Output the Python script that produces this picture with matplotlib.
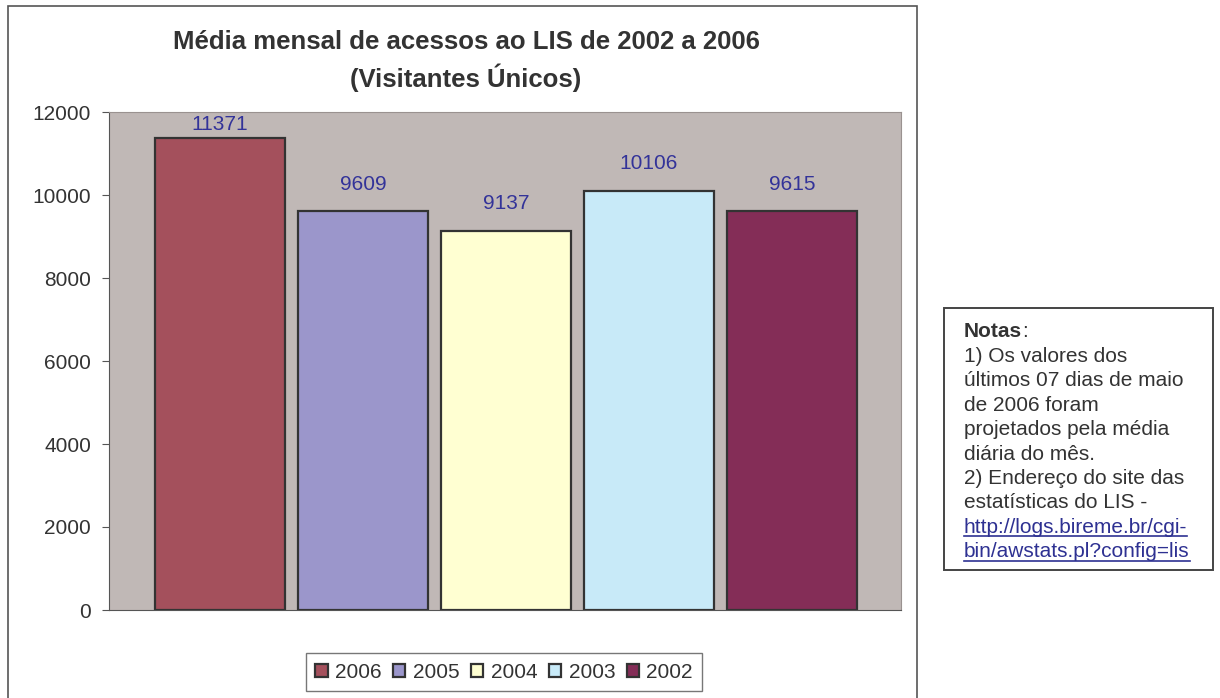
import matplotlib.pyplot as plt
from matplotlib.patches import Rectangle
from matplotlib.lines import Line2D

plt.rcParams['font.family'] = ['Liberation Sans', 'DejaVu Sans']

# Data
years = ['2006', '2005', '2004', '2003', '2002']
values = [11371, 9609, 9137, 10106, 9615]
colors = ['#A4505C', '#9B96CB', '#FFFFD2', '#C8EAF8', '#842D57']

W, H = 1220, 698
fig = plt.figure(figsize=(W / 100, H / 100), dpi=100)

def fx(px):
    return px / W

def fy(py):
    return 1 - py / H

# Outer chart frame
fig.patches.append(Rectangle((fx(8), -0.01), fx(917 - 8), fy(6) + 0.01,
                             transform=fig.transFigure, fill=False,
                             edgecolor='#555555', lw=1.2))

ax = fig.add_axes([fx(109), fy(610), fx(901 - 109), (610 - 112) / H])
ax.set_facecolor('#C0B8B6')

x = range(len(years))
bars = ax.bar(x, values, width=0.91, color=colors, edgecolor='#333333',
              lw=1.6, label=years)
for xi, v in zip(x, values):
    ax.text(xi, min(v + 650, 11710), str(v), ha='center', va='center',
            color='#333399', fontsize=15)

ax.set_xlim(-0.776, 4.762)
ax.set_ylim(0, 12000)
ax.set_yticks(range(0, 12001, 2000))
ax.set_xticks([])
ax.tick_params(axis='y', labelsize=15, length=5, color='#555555',
               labelcolor='#333333', pad=8)
for side in ['top', 'right']:
    ax.spines[side].set_color('#9A9290')
ax.spines['left'].set_color('#555555')
ax.spines['bottom'].set_color('#555555')

fig.text(fx(466), fy(42), 'Média mensal de acessos ao LIS de 2002 a 2006',
         ha='center', va='center', fontsize=18.5, fontweight='bold', color='#333333')
fig.text(fx(466), fy(78), '(Visitantes Únicos)',
         ha='center', va='center', fontsize=18.5, fontweight='bold', color='#333333')

leg = fig.legend(bars, years, loc='center', bbox_to_anchor=(fx(504), fy(672)),
                 ncol=5, fontsize=15, frameon=True, fancybox=False,
                 handlelength=0.6, handleheight=0.6, handletextpad=0.35,
                 columnspacing=0.55, borderpad=0.45, edgecolor='#555555',
                 labelcolor='#333333')
leg.get_frame().set_linewidth(1.0)

# Notes box
fig.patches.append(Rectangle((fx(944), fy(570)), fx(1213 - 944), (570 - 308) / H,
                             transform=fig.transFigure, fill=False,
                             edgecolor='#444444', lw=1.4))
notes = ['1) Os valores dos', 'últimos 07 dias de maio', 'de 2006 foram',
         'projetados pela média', 'diária do mês.', '2) Endereço do site das',
         'estatísticas do LIS -']
links = ['http://logs.bireme.br/cgi-', 'bin/awstats.pl?config=lis']
y0 = 332
step = 24.4
tx = fx(964)
renderer = fig.canvas.get_renderer()
t = fig.text(tx, fy(y0), 'Notas', fontweight='bold', fontsize=15,
             va='center', color='#333333')
bb = t.get_window_extent(renderer)
fig.text(bb.x1 / W, fy(y0), ':', fontsize=15, va='center', color='#333333')
for i, line in enumerate(notes):
    fig.text(tx, fy(y0 + step * (i + 1)), line, fontsize=15,
             va='center', color='#333333')
for j, line in enumerate(links):
    yy = y0 + step * (len(notes) + 1 + j)
    lt = fig.text(tx, fy(yy), line, fontsize=15, va='center', color='#2E3192')
    lb = lt.get_window_extent(renderer)
    uy = fy(yy + 9)
    fig.lines.append(Line2D([lb.x0 / W, lb.x1 / W], [uy, uy], color='#2E3192',
                            lw=1.2, transform=fig.transFigure))

fig.savefig('out.png', dpi=100)
